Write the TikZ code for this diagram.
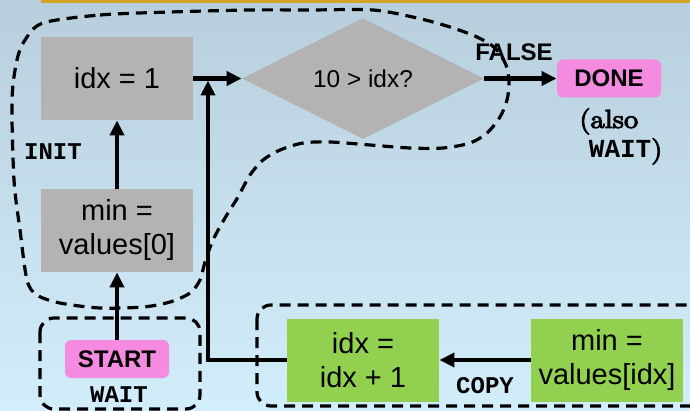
\documentclass[tikz,border=0pt]{standalone}
\usepackage{fontspec}
\setsansfont{Liberation Sans}
\setmonofont{Liberation Mono}
\newfontfamily\heavyserif{Latin Modern Roman}[FakeBold=4, FakeStretch=1.12]
\usetikzlibrary{shapes.geometric,arrows.meta}

\definecolor{bgtop}{RGB}{184,206,220}
\definecolor{bgbot}{RGB}{210,238,250}
\definecolor{topgold}{RGB}{214,164,36}
\definecolor{stepgray}{RGB}{179,179,179}
\definecolor{stepgreen}{RGB}{146,208,80}
\definecolor{statepink}{RGB}{244,139,224}

\tikzset{
  box/.style={minimum width=76pt, minimum height=41.5pt, inner sep=0pt, align=center,
    font=\sffamily\fontsize{14.5}{17}\selectfont},
  state/.style={fill=statepink, rounded corners=3pt, minimum width=52pt, minimum height=19pt,
    inner sep=0pt, font=\sffamily\bfseries\fontsize{12}{14}\selectfont},
  tag/.style={inner sep=0pt, font=\ttfamily\bfseries\fontsize{12}{13}\selectfont},
  flow/.style={line width=2.4pt, -{Triangle[length=7.5pt,width=7pt]}},
  group/.style={line width=1.6pt, dash pattern=on 5.5pt off 3.5pt},
}

\begin{document}
\begin{tikzpicture}[x=0.5pt, y=-0.5pt]
\useasboundingbox (0,0) rectangle (690,411);
\clip (0,0) rectangle (690,411);
\shade[top color=bgtop, bottom color=bgbot] (0,0) rectangle (690,411);
\fill[topgold] (41,0) rectangle (690,3);

% dashed regions
\draw[group] plot[smooth cycle] coordinates {
  (43,23) (100,15) (170,12) (250,10) (310,10) (373,10) (417,18) (450,27) (477,37)
  (495,48) (506,65) (509,83) (507,100) (500,117) (487,133) (470,143) (443,148)
  (410,148) (370,145) (330,142) (303,143) (280,150) (263,160) (250,175) (238,197)
  (225,218) (213,240) (205,262) (200,280) (190,293) (170,302) (143,307) (100,308)
  (60,303) (37,295) (27,280) (20,230) (14,180) (12,100) (17,60) (25,40)};
\draw[group, rounded corners=7pt] (40,318) rectangle (200,409);
\draw[group, rounded corners=7pt] (257,305) rectangle (720,406);

% steps
\node[box, fill=stepgray] (init) at (117,78.5) {idx = 1};
\node[box, fill=stepgray] (first) at (117,230.5) {min =\\values[0]};
\node[diamond, fill=stepgray, minimum width=121pt, minimum height=60.5pt, inner sep=0pt,
  font=\sffamily\fontsize{12.2}{14}\selectfont] (cond) at (363,78.5) {10 > idx?};
\node[box, fill=stepgreen] (inc) at (363,360) {idx =\\idx + 1};
\node[box, fill=stepgreen] (scan) at (607,360) {min =\\values[idx]};

% states
\node[state] (done) at (609,78.5) {DONE};
\node[state] (start) at (117,359) {START};

% labels
\node[inner sep=0pt, font=\sffamily\bfseries\fontsize{12}{14}\selectfont] (falselbl) at (514,52) {FALSE};
\node[anchor=north west, inner sep=0pt, align=left, font=\heavyserif\fontsize{13}{15}\selectfont]
  (alsolbl) at (579,108) {(also\\\ \textbf{\texttt{WAIT}})};
\node[tag] (initlbl) at (53,152) {INIT};
\node[tag] (waitlbl) at (119,395) {WAIT};
\node[tag] (copylbl) at (485,385.5) {COPY};

% connectors
\coordinate (merge) at (208,80.5);
\draw[flow] (start) -- (first);
\draw[flow] (first) -- (init);
\draw[flow] (init) -- (cond);
\draw[flow] (cond) -- (done);
\draw[flow] (scan) -- (inc);
\draw[flow] (inc.west) -| (merge);
\end{tikzpicture}
\end{document}
